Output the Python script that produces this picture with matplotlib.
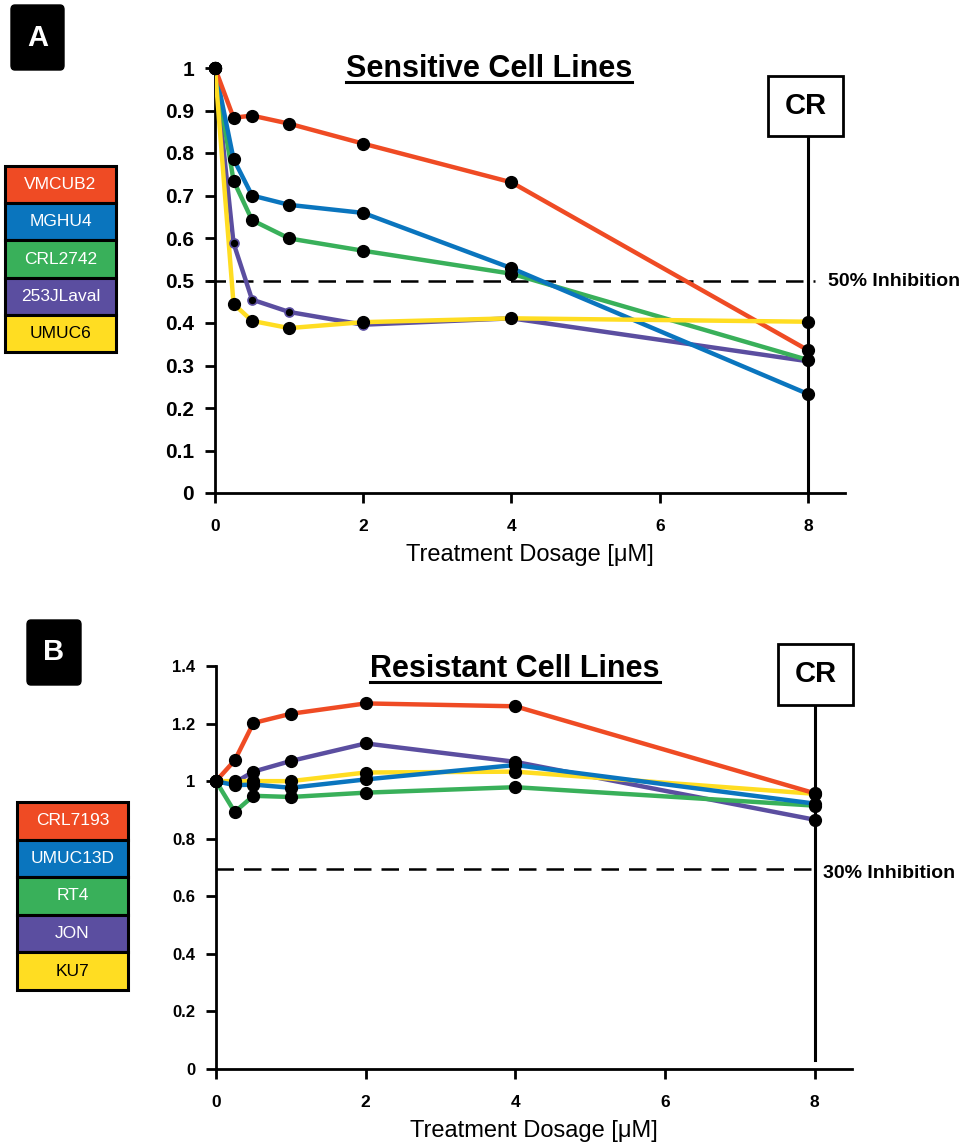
import matplotlib
matplotlib.use('Agg')
import matplotlib.pyplot as plt
from matplotlib.patches import Rectangle, FancyBboxPatch
from matplotlib.lines import Line2D
from matplotlib.ticker import FuncFormatter

FONT = ['Liberation Sans', 'DejaVu Sans']

RED = "#EF4B24"
BLUE = "#0A75BE"
GREEN = "#39B05A"
PURPLE = "#5B4EA0"
YELLOW = "#FFDD22"

# dosage [uM]
doses = [0, 0.25, 0.5, 1, 2, 4, 8]

# panel A - sensitive cell lines
sens_names = ["VMCUB2", "MGHU4", "CRL2742", "253JLaval", "UMUC6"]
sens_colors = [RED, BLUE, GREEN, PURPLE, YELLOW]
vmcub2 = [1.0, 0.883, 0.888, 0.869, 0.822, 0.731, 0.336]
mghu4 = [1.0, 0.786, 0.700, 0.678, 0.659, 0.529, 0.233]
crl2742 = [1.0, 0.735, 0.642, 0.599, 0.570, 0.516, 0.313]
jlaval = [1.0, 0.588, 0.455, 0.426, 0.396, 0.411, 0.310]
umuc6 = [1.0, 0.445, 0.405, 0.388, 0.402, 0.411, 0.403]

# panel B - resistant cell lines
res_names = ["CRL7193", "UMUC13D", "RT4", "JON", "KU7"]
res_colors = [RED, BLUE, GREEN, PURPLE, YELLOW]
crl7193 = [1.0, 1.072, 1.202, 1.234, 1.270, 1.260, 0.958]
umuc13d = [1.0, 0.986, 0.988, 0.977, 1.006, 1.056, 0.922]
rt4 = [1.0, 0.893, 0.949, 0.945, 0.960, 0.979, 0.915]
jon = [1.0, 0.995, 1.033, 1.070, 1.131, 1.067, 0.866]
ku7 = [1.0, 1.000, 1.000, 1.000, 1.030, 1.033, 0.956]

W, H = 967, 1145
fig = plt.figure(figsize=(W / 100, H / 100), dpi=100, facecolor='white')


def fx(x):
    return x / W


def fy(y):
    return 1 - y / H


def style_axes(ax, ymax, ystep, ytick_size, xtick_size):
    for s in ['top', 'right']:
        ax.spines[s].set_visible(False)
    for s in ['left', 'bottom']:
        ax.spines[s].set_linewidth(2.0)
        ax.spines[s].set_color('black')
    ax.set_xlim(0, 8.5)
    ax.set_ylim(0, ymax)
    ax.set_xticks([0, 2, 4, 6, 8])
    n = int(round(ymax / ystep))
    ax.set_yticks([round(i * ystep, 2) for i in range(n + 1)])
    ax.yaxis.set_major_formatter(FuncFormatter(lambda v, p: f"{v:g}"))
    ax.tick_params(axis='both', direction='out', length=7, width=2, color='black')
    ax.tick_params(axis='y', pad=8)
    ax.tick_params(axis='x', pad=12)
    for lab in ax.get_yticklabels():
        lab.set_fontfamily(FONT)
        lab.set_fontweight('bold')
        lab.set_fontsize(ytick_size)
    for lab in ax.get_xticklabels():
        lab.set_fontfamily(FONT)
        lab.set_fontweight('bold')
        lab.set_fontsize(xtick_size)
    ax.set_xlabel("Treatment Dosage [μM]", fontfamily=FONT, fontsize=17, labelpad=7)


def draw_series(ax, series, colors, small_idx=None):
    for i, (vals, c) in enumerate(zip(series, colors)):
        ax.plot(doses, vals, color=c, lw=3.2, zorder=3 + i * 0.1, solid_capstyle='round')
        if i == small_idx:
            ax.plot(doses[1:], vals[1:], ls='none', marker='o', ms=6.5, mfc='black', mec=c,
                    mew=1.2, zorder=4 + i * 0.1, clip_on=False)
            ax.plot(doses[:1], vals[:1], ls='none', marker='o', ms=8.5, color='black',
                    zorder=4 + i * 0.1, clip_on=False)
        else:
            ax.plot(doses, vals, ls='none', marker='o', ms=8.5, color='black',
                    zorder=4 + i * 0.1, clip_on=False)


def legend_boxes(x0, x1, y0, row_h, names, colors):
    for i, (n, c) in enumerate(zip(names, colors)):
        top = y0 + i * row_h
        fig.add_artist(Rectangle((fx(x0), fy(top + row_h)), fx(x1 - x0), row_h / H,
                                 facecolor=c, edgecolor='black', lw=2.2,
                                 transform=fig.transFigure))
        tc = 'black' if c == YELLOW else 'white'
        fig.text(fx((x0 + x1) / 2), fy(top + row_h / 2), n, ha='center', va='center',
                 color=tc, fontsize=12.5, fontfamily=FONT)


def panel_label(x0, x1, y0, y1, s):
    fig.add_artist(FancyBboxPatch((fx(x0), fy(y1)), fx(x1 - x0), (y1 - y0) / H,
                                  boxstyle="round,pad=0,rounding_size=0.004",
                                  facecolor='black', edgecolor='black',
                                  transform=fig.transFigure))
    fig.text(fx((x0 + x1) / 2), fy((y0 + y1) / 2), s, ha='center', va='center',
             color='white', fontsize=21, fontweight='bold', fontfamily=FONT)


def cr_box(x0, x1, y0, y1):
    fig.add_artist(Rectangle((fx(x0), fy(y1)), fx(x1 - x0), (y1 - y0) / H,
                             facecolor='white', edgecolor='black', lw=2.0,
                             transform=fig.transFigure, zorder=5))
    fig.text(fx((x0 + x1) / 2), fy((y0 + y1) / 2), "CR", ha='center', va='center',
             fontsize=21, fontweight='bold', fontfamily=FONT, zorder=6)


titles = []

# ---------------- Panel A ----------------
axA = fig.add_axes([fx(215), fy(493), fx(845 - 215), (493 - 68) / H])
style_axes(axA, 1.0, 0.1, 15, 12.5)
draw_series(axA, [jlaval, crl2742, mghu4, vmcub2, umuc6],
            [PURPLE, GREEN, BLUE, RED, YELLOW], small_idx=0)
axA.plot([-0.1, 8.1], [0.5, 0.5], color='black', lw=1.8, dashes=(7, 4), clip_on=False, zorder=2)
axA.plot([8, 8], [0, 0.84], color='black', lw=2.2, zorder=2.5)
fig.text(fx(828), fy(281), "50% Inhibition", ha='left', va='center', fontsize=14,
         fontweight='bold', fontfamily=FONT)
cr_box(768, 843, 76, 136)
titles.append(fig.text(fx(489), fy(77), "Sensitive Cell Lines", ha='center', va='baseline',
                       fontsize=22, fontweight='bold', fontfamily=FONT))
legend_boxes(5, 116, 166, 37.2, sens_names, sens_colors)
panel_label(11, 64, 5, 70, "A")

# ---------------- Panel B ----------------
axB = fig.add_axes([fx(216), fy(1069), fx(852 - 216), (1069 - 666) / H])
style_axes(axB, 1.4, 0.2, 12, 12.5)
draw_series(axB, [jon, rt4, ku7, umuc13d, crl7193],
            [PURPLE, GREEN, YELLOW, BLUE, RED])
axB.plot([0, 8], [0.696, 0.696], color='black', lw=1.8, dashes=(7, 4), zorder=2)
axB.plot([8, 8], [0.03, 1.267], color='black', lw=2.2, clip_on=False, zorder=2.5)
fig.text(fx(823), fy(873), "30% Inhibition", ha='left', va='center', fontsize=14,
         fontweight='bold', fontfamily=FONT)
cr_box(778, 853, 644, 705)
titles.append(fig.text(fx(515), fy(677), "Resistant Cell Lines", ha='center', va='baseline',
                       fontsize=22, fontweight='bold', fontfamily=FONT))
legend_boxes(17, 128, 802, 37.6, res_names, res_colors)
panel_label(27, 81, 620, 685, "B")

# underline the titles
fig.canvas.draw()
r = fig.canvas.get_renderer()
for t in titles:
    bb = t.get_window_extent(r).transformed(fig.transFigure.inverted())
    yb = t.get_position()[1] - 5 / H
    fig.add_artist(Line2D([bb.x0, bb.x1], [yb, yb], color='black', lw=2.2,
                          transform=fig.transFigure))

fig.savefig("out.png", dpi=100, facecolor='white')
